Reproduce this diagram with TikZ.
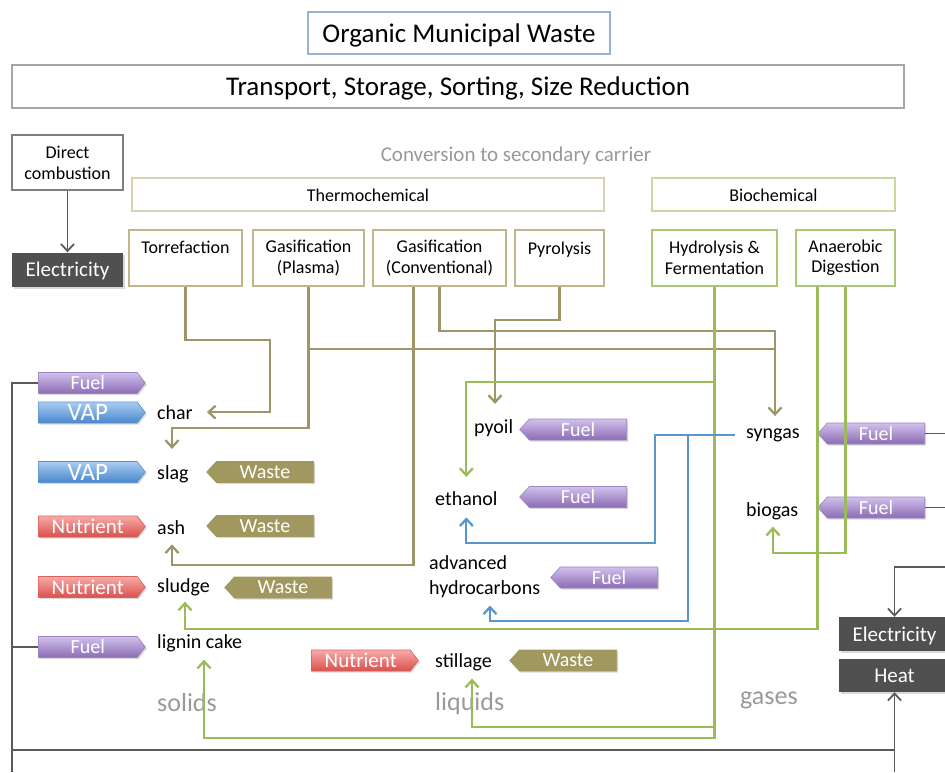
\documentclass[tikz,border=0pt]{standalone}
\usepackage{fontspec}
\setmainfont{Carlito}
\usetikzlibrary{arrows.meta,shapes.symbols,shadows}
\definecolor{cTitleB}{HTML}{95B3D7}
\definecolor{cTransB}{HTML}{A6A6A6}
\definecolor{cDirB}{HTML}{7F7F7F}
\definecolor{cThGroup}{HTML}{D7D3B0}
\definecolor{cThProc}{HTML}{BFB68C}
\definecolor{cBioGroup}{HTML}{C6DA9E}
\definecolor{cBioProc}{HTML}{ABC775}
\definecolor{cOl}{HTML}{9E9668}
\definecolor{cGr}{HTML}{9BBB59}
\definecolor{cBl}{HTML}{5B95CD}
\definecolor{cGk}{HTML}{5A5A5A}
\definecolor{cDark}{HTML}{505050}
\definecolor{cSoft}{HTML}{999999}
\definecolor{cPurL}{HTML}{D2C0EC}
\definecolor{cPurD}{HTML}{8A6CB4}
\definecolor{cPurB}{HTML}{9C84C2}
\definecolor{cBluL}{HTML}{A9CDF2}
\definecolor{cBluD}{HTML}{4B86CC}
\definecolor{cBluB}{HTML}{5B93D0}
\definecolor{cRedL}{HTML}{F7ABA8}
\definecolor{cRedD}{HTML}{D9504C}
\definecolor{cRedB}{HTML}{D9605C}
\definecolor{cWaste}{HTML}{A1985F}
\newcommand\fsz[2]{\fontsize{#1}{#2}\selectfont}
\begin{document}
\begin{tikzpicture}[x=1pt,y=-1pt,
  box/.style={draw, line width=1.1pt, align=center, inner sep=0pt},
  darkbox/.style={fill=cDark, text=white, inner sep=0pt, font=\fsz{21}{24}, text depth=0pt,
     drop shadow={shadow xshift=1.5pt, shadow yshift=-2pt, opacity=0.3}},
  item/.style={anchor=base west, inner sep=0pt, font=\fsz{20}{25}, align=left},
  soft/.style={anchor=base west, inner sep=0pt, font=\fsz{26}{30}, text=cSoft},
  tagbase/.style={signal, minimum width=107pt, minimum height=21pt, inner sep=0pt,
     text=white, line width=0.6pt,
     drop shadow={shadow xshift=1.5pt, shadow yshift=-1.5pt, opacity=0.3}},
  tagR/.style={tagbase, signal to=east, signal pointer angle=105, anchor=west},
  tagL/.style={tagbase, signal to=west, signal pointer angle=95, anchor=east},
  fuel/.style={top color=cPurL, bottom color=cPurD, draw=cPurB, font=\fsz{20}{20}},
  vap/.style={top color=cBluL, bottom color=cBluD, draw=cBluB, font=\fsz{25}{25}},
  nut/.style={top color=cRedL, bottom color=cRedD, draw=cRedB, font=\fsz{21}{21}},
  waste/.style={fill=cWaste, draw=cWaste, font=\fsz{20}{20}},
  tip/.style={-{Straight Barb[length=7pt,width=13pt]}},
  ol/.style={draw=cOl, line width=2.3pt, line join=miter},
  gr/.style={draw=cGr, line width=2.3pt},
  bl/.style={draw=cBl, line width=2.3pt},
  gk/.style={draw=cGk, line width=1.8pt}
]
\useasboundingbox (0,0) rectangle (945,772);

% top boxes
\node[box, draw=cTitleB, minimum width=302pt, minimum height=42pt, font=\fsz{27}{30}, text depth=0pt] (title) at (459,33) {Organic Municipal Waste};
\node[box, draw=cTransB, minimum width=892pt, minimum height=43pt, font=\fsz{27}{30}, text depth=0pt] (transport) at (458,86.5) {Transport, Storage, Sorting, Size Reduction};
\node[box, draw=cDirB, minimum width=111pt, minimum height=55pt, font=\fsz{18}{21}] (direct) at (67.5,162.5) {Direct\\combustion};
\node[darkbox, minimum width=111pt, minimum height=34pt] (elecL) at (67.5,269.5) {Electricity};
\node[inner sep=0pt, text=cSoft, font=\fsz{21}{24}, text depth=0pt] (convtxt) at (516,154) {Conversion to secondary carrier};
\node[box, draw=cThGroup, minimum width=472pt, minimum height=33pt, font=\fsz{18}{21}, text height=14pt, text depth=0pt] (thermo) at (368,194.5) {Thermochemical};
\node[box, draw=cBioGroup, minimum width=243pt, minimum height=33pt, font=\fsz{18}{21}, text height=14pt, text depth=0pt] (bio) at (773.5,194.5) {Biochemical};

% process boxes
\node[box, draw=cThProc, minimum width=113pt, minimum height=56pt, font=\fsz{18}{20.5}] (torr) at (185.5,258) {Torrefaction\\\mbox{}};
\node[box, draw=cThProc, minimum width=111pt, minimum height=56pt, font=\fsz{18}{20.5}] (plasma) at (308.5,258) {Gasification\\(Plasma)};
\node[box, draw=cThProc, minimum width=133pt, minimum height=56pt, font=\fsz{18}{20.5}] (gconv) at (439.5,258) {Gasification\\(Conventional)};
\node[box, draw=cThProc, minimum width=89pt, minimum height=56pt, font=\fsz{18}{20.5}] (pyro) at (559.5,258) {Pyrolysis\\\mbox{}};
\node[box, draw=cBioProc, minimum width=125pt, minimum height=56pt, font=\fsz{18}{20.5}] (hydro) at (714.5,258) {Hydrolysis \&\\Fermentation};
\node[box, draw=cBioProc, minimum width=99pt, minimum height=56pt, font=\fsz{18}{20.5}] (anaer) at (845.5,258) {Anaerobic\\Digestion};

% product labels
\node[item] (char) at (157,419) {char};
\node[item] (slag) at (157,479) {slag};
\node[item] (ash) at (157,534) {ash};
\node[item] (sludge) at (157,592) {sludge};
\node[item] (lignin) at (157,648) {lignin cake};
\node[item] (pyoil) at (474,433) {pyoil};
\node[item] (ethanol) at (435,505) {ethanol};
\node[item, anchor=north west] (advhc) at (429,555) {advanced\\hydrocarbons};
\node[item] (stillage) at (435,667) {stillage};
\node[item] (syngas) at (746,438) {syngas};
\node[item] (biogas) at (746,516) {biogas};
\node[soft] (solids) at (157,711) {solids};
\node[soft] (liquids) at (435,710) {liquids};
\node[soft] (gases) at (740,704) {gases};

% tags
\node[tagR, fuel] (fuelA) at (38,383) {Fuel};
\node[tagR, vap] (vapA) at (38,412.5) {VAP};
\node[tagR, vap] (vapB) at (38,472) {VAP};
\node[tagR, nut] (nutA) at (38,526.5) {Nutrient};
\node[tagR, nut] (nutB) at (38,587) {Nutrient};
\node[tagR, fuel] (fuelB) at (38,647) {Fuel};
\node[tagL, waste] (wasteA) at (314,472) {Waste};
\node[tagL, waste] (wasteB) at (314,526) {Waste};
\node[tagL, waste] (wasteC) at (332,587.5) {Waste};
\node[tagL, fuel] (fuelP) at (627,429.5) {Fuel};
\node[tagL, fuel] (fuelE) at (627,497) {Fuel};
\node[tagL, fuel] (fuelH) at (658,577.5) {Fuel};
\node[tagR, nut] (nutS) at (311,660.5) {Nutrient};
\node[tagL, waste] (wasteS) at (617,660.5) {Waste};
\node[tagL, fuel] (fuelS) at (925,433.5) {Fuel};
\node[tagL, fuel] (fuelG) at (925,507.5) {Fuel};

% output boxes right
\node[darkbox, minimum width=111pt, minimum height=34pt] (elecR) at (894.5,634) {Electricity};
\node[darkbox, minimum width=111pt, minimum height=33pt] (heat) at (894.5,675.5) {Heat};

% olive connectors (thermochemical)
\draw[ol, tip] (torr.south) |- (270,340) |- ([xshift=14pt]char.east);
\draw[ol, tip, shorten >=16pt] (plasma.south) |- (172,428) -- (172,0 |- slag.north);
\draw[ol, tip, shorten >=12pt] (plasma.south |- 0,349) -| (775,0 |- syngas.north);
\draw[ol] (gconv.south) |- (775,331) -- (775,349);
\draw[ol, tip, shorten >=10pt] ([xshift=-26pt]gconv.south) |- (172,565) -- (172,0 |- ash.south);
\draw[ol, tip, shorten >=15pt] (pyro.south) |- (495,320) -- (495,0 |- pyoil.north);

% green connectors (biochemical)
\draw[gr, tip, shorten >=8pt] (hydro.south) |- (204,738) -- (204,0 |- lignin.south);
\draw[gr, tip, shorten >=14pt] (hydro.south |- 0,382) -| (ethanol.north);
\draw[gr, tip, shorten >=8pt] (hydro.south |- 0,727) -| (472,0 |- stillage.south);
\draw[gr, tip, shorten >=7pt] (anaer.south) |- (773,553) -- (773,0 |- biogas.south);
\draw[gr, tip, shorten >=6pt] ([xshift=-28pt]anaer.south) |- (185,629) -- (185,0 |- sludge.south);

% blue connectors (from syngas)
\draw[bl, tip, shorten >=12pt] ([xshift=-11pt]syngas.west) -| (655,543) -| (ethanol.south);
\draw[bl, tip, shorten >=8pt] (688,0 |- syngas.west) |- (490,621) -- (490,0 |- advhc.south);

% gray connectors
\draw[gk, tip] (direct.south) -- (elecL.north);
\draw[gk] (fuelA.west) -| (12,772);
\draw[gk] (fuelB.west) -- (12,0 |- fuelB.west);
\draw[gk] (12,750) -- (heat.south |- 0,750);
\draw[gk, tip] (heat.south |- 0,772) -- (heat.south);
\draw[gk] (fuelS.east) -- (945,0 |- fuelS.east);
\draw[gk] (fuelG.east) -- (945,0 |- fuelG.east);
\draw[gk, tip] (945,567) -| (elecR.north);
\end{tikzpicture}
\end{document}
